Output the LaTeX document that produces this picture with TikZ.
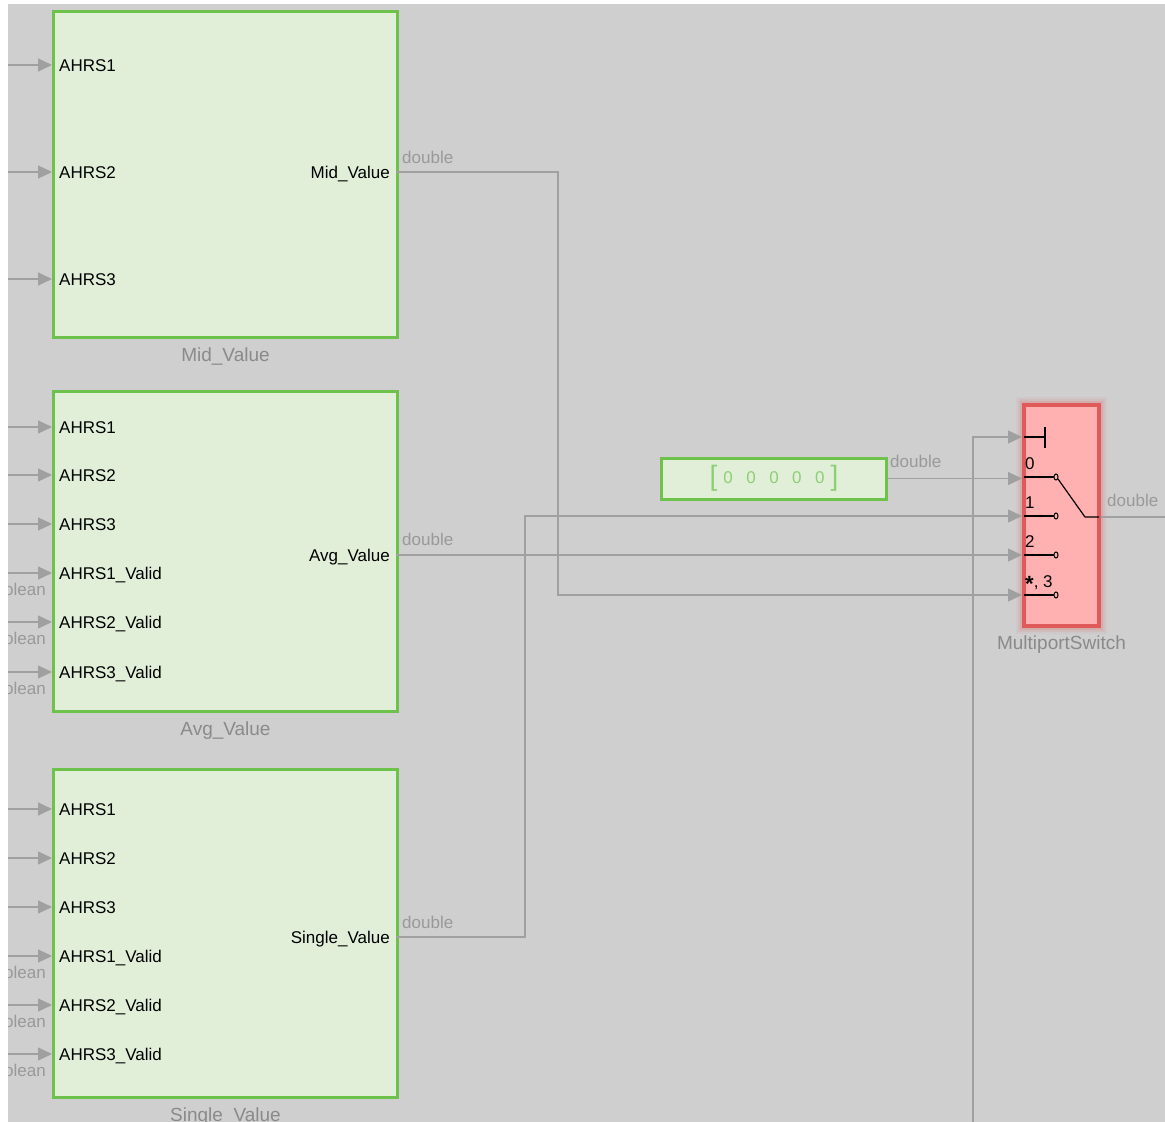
\documentclass[tikz,border=0pt]{standalone}
\usepackage{fontspec}
\setmainfont{Liberation Sans}
\usepackage{tikz}
\tikzset{x=1pt,y=-1pt}
\usetikzlibrary{arrows.meta, positioning}
\definecolor{canvas}{HTML}{CFCFCF}
\definecolor{blkfill}{HTML}{E1EFD9}
\definecolor{blkline}{HTML}{6CC24A}
\definecolor{wiregray}{HTML}{A0A0A0}
\definecolor{typegray}{HTML}{999999}
\definecolor{capgray}{HTML}{8A8A8A}
\definecolor{swfill}{HTML}{FFB0B0}
\definecolor{swline}{HTML}{E05A5A}
\definecolor{constgreen}{HTML}{8CCF74}
\tikzset{
  blk/.style={draw=blkline, line width=3pt, fill=blkfill, anchor=north west, inner sep=0pt},
  sig/.style={draw=wiregray, line width=1.3pt, -{Triangle[length=14pt,width=13pt]}},
  wire/.style={draw=wiregray, line width=1.3pt},
  portname/.style={font=\fontsize{17}{17}\selectfont, text=black, inner sep=0pt},
  dtype/.style={font=\fontsize{17}{17}\selectfont, text=typegray, inner sep=0pt},
  caption/.style={font=\fontsize{19}{19}\selectfont, text=capgray, inner sep=0pt},
  swport/.style={draw=black, line width=1.2pt},
}

\begin{document}
\begin{tikzpicture}
  \useasboundingbox[fill=white] (0,0) rectangle (1165,1122);
  \begin{scope}
  \clip (8,4) rectangle (1165,1122);
  \fill[canvas] (8,4) rectangle (1165,1122);

  % subsystem blocks
  \node[blk, minimum width=344pt, minimum height=326pt] (mid) at (52,10) {};
  \node[blk, minimum width=344pt, minimum height=320pt] (avg) at (52,390) {};
  \node[blk, minimum width=344pt, minimum height=328pt] (single) at (52,768) {};
  \node[caption, below=9pt of mid] {Mid\_Value};
  \node[caption, below=9pt of avg] {Avg\_Value};
  \node[caption, below=9pt of single] {Single\_Value};

  % inputs of Mid_Value
  \foreach \y/\t [count=\i] in {65/AHRS1,172/AHRS2,279/AHRS3} {
    \coordinate (mid-src\i) at (0,\y);
    \coordinate (mid-in\i) at (52,\y);
    \draw[sig] (mid-src\i) -- (mid-in\i);
    \node[portname, anchor=base west] at (59,\y+6) {\t};
  }
  % inputs of Avg_Value
  \foreach \y/\t [count=\i] in {427/AHRS1,475/AHRS2,524/AHRS3,573/AHRS1\_Valid,622/AHRS2\_Valid,672/AHRS3\_Valid} {
    \coordinate (avg-src\i) at (0,\y);
    \coordinate (avg-in\i) at (52,\y);
    \draw[sig] (avg-src\i) -- (avg-in\i);
    \node[portname, anchor=base west] at (59,\y+6) {\t};
  }
  % inputs of Single_Value
  \foreach \y/\t [count=\i] in {809/AHRS1,858/AHRS2,907/AHRS3,956/AHRS1\_Valid,1005/AHRS2\_Valid,1054/AHRS3\_Valid} {
    \coordinate (single-src\i) at (0,\y);
    \coordinate (single-in\i) at (52,\y);
    \draw[sig] (single-src\i) -- (single-in\i);
    \node[portname, anchor=base west] at (59,\y+6) {\t};
  }
  \foreach \y in {573,622,672,956,1005,1054}
    \node[dtype, anchor=base east] at (46,\y+22) {boolean};

  % outputs
  \coordinate (mid-out) at (396,172);
  \coordinate (avg-out) at (396,555);
  \coordinate (single-out) at (396,937);
  \node[portname, anchor=base east] at (390,178) {Mid\_Value};
  \node[portname, anchor=base east] at (390,561) {Avg\_Value};
  \node[portname, anchor=base east] at (390,943) {Single\_Value};
  \node[dtype, anchor=base west] at (402,163) {double};
  \node[dtype, anchor=base west] at (402,545) {double};
  \node[dtype, anchor=base west] at (402,928) {double};

  % constant
  \node[blk, minimum width=225pt, minimum height=41pt] (const) at (660,456.5) {};
  \node[text=constgreen, inner sep=0pt, font=\fontsize{17}{17}\selectfont] (const-val) at (const.center)
    {\raisebox{-2pt}{\fontsize{28}{28}\selectfont[}\hspace{6pt}0\hspace{13.5pt}0\hspace{13.5pt}0\hspace{13.5pt}0\hspace{13.5pt}0\hspace{6pt}\raisebox{-2pt}{\fontsize{28}{28}\selectfont]}};
  \node[dtype, anchor=base west] at (890,467) {double};

  % multiport switch (soft glow first)
  \coordinate (sw-nw) at (1024,405);
  \coordinate (sw-se) at (1099,626);
  \foreach \w/\o in {16/0.06,12/0.1,8/0.16}
    \draw[swline, line width=\w pt, opacity=\o] (sw-nw) rectangle (sw-se);
  \node[draw=swline, line width=3.5pt, fill=swfill, anchor=north west, inner sep=0pt, outer sep=0pt,
        minimum width=75pt, minimum height=221pt] (sw) at (sw-nw) {};
  \node[caption, below=10pt of sw] {MultiportSwitch};
  \coordinate (sw-ctrl) at (1022,437);
  \draw[swport] (1024,437) -- (1045,437) (1045,427) -- (1045,448);
  \foreach \y/\t [count=\i from 0] in {477/0,516/1,555/2,595/{\raisebox{-4pt}{\fontsize{22}{22}\selectfont\bfseries *}, 3}} {
    \coordinate (sw-in\i) at (1022,\y);
    \draw[swport] (1024,\y) -- (1054,\y);
    \draw[black, line width=1pt] (1056,\y) circle[x radius=2pt, y radius=3pt];
    \node[portname, anchor=base west] at (1025,\y-8) {\t};
  }
  \draw[swport] (1058,479) -- (1085,517) -- (1099,517);
  \coordinate (sw-out) at (1101,517);
  \coordinate (out-end) at (1165,517);
  \draw[wire] (sw-out) -- (out-end);
  \node[dtype, anchor=base west] at (1107,506) {double};

  % connections to the switch
  \coordinate (mid-turn) at (558,172);
  \coordinate (single-turn) at (525,937);
  \coordinate (ctrl-src) at (973,1122);
  \draw[sig] (mid-out) -- (mid-turn) |- (sw-in3);
  \draw[sig] (avg-out) -- (sw-in2);
  \draw[sig] (single-out) -- (single-turn) |- (sw-in1);
  \draw[sig] (const) -- (const -| sw-in0);
  \draw[sig] (ctrl-src) |- (sw-ctrl);
  \end{scope}
\end{tikzpicture}
\end{document}
